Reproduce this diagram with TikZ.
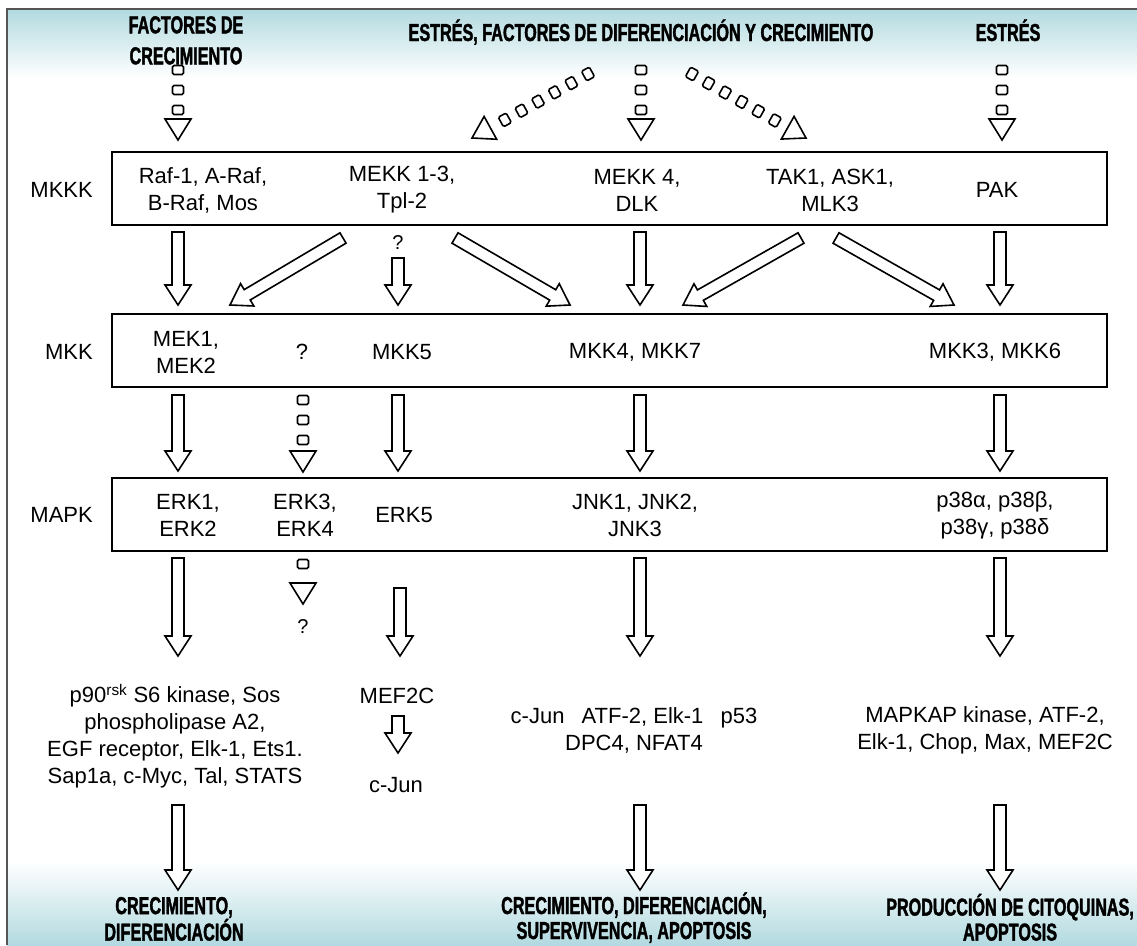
\documentclass[tikz,border=0pt]{standalone}
\usepackage{fontspec}
\setmainfont{Liberation Sans}
\newfontfamily\ttlfont{Liberation Sans}[FakeStretch=0.66, FakeBold=1.6]
\usetikzlibrary{calc,decorations.markings}
\definecolor{bandblue}{RGB}{178,218,224}
\definecolor{framegray}{RGB}{85,85,85}
\tikzset{
  lbl/.style={font=\fontsize{22}{27}\selectfont, align=center, inner sep=0pt, text=black},
  qmark/.style={font=\fontsize{20}{24}\selectfont, inner sep=0pt},
  ttl/.style={font=\ttlfont\bfseries\fontsize{24.5}{31}\selectfont, align=center, inner sep=0pt},
  ttlb/.style={font=\ttlfont\bfseries\fontsize{24.5}{25}\selectfont, align=center, inner sep=0pt},
  levelbox/.style={draw, line width=2pt, minimum width=995pt, minimum height=73pt, inner sep=0pt},
  blockarrow/.style={draw, line width=1.6pt, fill=white, line join=miter},
  sqbox/.style={draw, line width=1.6pt, fill=white, rounded corners=1.5pt},
  dothead/.style={draw, line width=1.6pt, fill=white, line join=miter},
}
\newcommand\blockarr[2]{%
  \coordinate (bP) at ($(#2)!20pt!(#1)$);
  \draw[blockarrow] ($(#1)!6pt!90:(#2)$) -- ($(bP)!6pt!-90:(#1)$) -- ($(bP)!13pt!-90:(#1)$)
    -- (#2) -- ($(bP)!13pt!90:(#1)$) -- ($(bP)!6pt!90:(#1)$) -- ($(#1)!6pt!-90:(#2)$) -- cycle;
}
\newcommand\dotarr[4]{%
  \path[decorate, decoration={markings,
    mark=between positions 0 and #3 step #4 with {\draw[sqbox] (-4.5pt,-5.5pt) rectangle (4.5pt,5.5pt);},
    mark=at position 1 with {\draw[dothead] (0pt,0pt) -- (-21pt,13pt) -- (-21pt,-13pt) -- cycle;}}]
    (#1) -- (#2);
}
\begin{document}
\begin{tikzpicture}[x=1pt,y=-1pt]
\useasboundingbox (0,0) rectangle (1137,945);
\fill[white] (0,0) rectangle (1137,945);
\shade[top color=bandblue, bottom color=white] (7,9) rectangle (1137,78);
\shade[top color=white, bottom color=bandblue] (7,862) rectangle (1137,945);
\draw[framegray, line width=2pt] (7,945) -- (7,9) -- (1137,9);

% top titles
\node[ttl, anchor=north] (tgf) at (186,16) {FACTORES DE\\CRECIMIENTO};
\node[ttl, anchor=base] (tall) at (641,41) {ESTRÉS, FACTORES DE DIFERENCIACIÓN Y CRECIMIENTO};
\node[ttl, anchor=base] (tst) at (1008,41) {ESTRÉS};

% level boxes
\node[levelbox] (mkkk) at (609.5,188.5) {};
\node[levelbox] (mkk) at (609.5,350.5) {};
\node[levelbox] (mapk) at (609.5,514.5) {};

% level labels
\node[lbl, anchor=east] (lmkkk) at (93,190) {MKKK};
\node[lbl, anchor=east] (lmkk) at (93,352) {MKK};
\node[lbl, anchor=east] (lmapk) at (93,515) {MAPK};

% MKKK row
\node[lbl] (raf) at (203,190) {Raf-1, A-Raf,\\B-Raf, Mos};
\node[lbl] (mekk13) at (402,190) {MEKK 1-3,\\Tpl-2};
\node[lbl] (mekk4) at (637,190) {MEKK 4,\\DLK};
\node[lbl] (tak) at (830,190) {TAK1, ASK1,\\MLK3};
\node[lbl] (pak) at (997,190) {PAK};

% MKK row
\node[lbl] (mek) at (186,352) {MEK1,\\MEK2};
\node[lbl] (mkkq) at (302,352) {?};
\node[lbl] (mkk5) at (402,352) {MKK5};
\node[lbl] (mkk47) at (635,352) {MKK4, MKK7};
\node[lbl] (mkk36) at (995,352) {MKK3, MKK6};

% MAPK row
\node[lbl] (erk12) at (188,515) {ERK1,\\ERK2};
\node[lbl] (erk34) at (305,515) {ERK3,\\ERK4};
\node[lbl] (erk5) at (404,515) {ERK5};
\node[lbl] (jnk) at (635,515) {JNK1, JNK2,\\JNK3};
\node[lbl] (p38) at (995,515) {p38α, p38β,\\p38γ, p38δ};

% targets
\node[lbl] (terk) at (175,736) {p90\textsuperscript{rsk} S6 kinase, Sos\\phospholipase A2,\\EGF receptor, Elk-1, Ets1.\\Sap1a, c-Myc, Tal, STATS};
\node[lbl] (mef) at (397,696) {MEF2C};
\node[lbl] (cjun) at (396,785) {c-Jun};
\node[lbl] (tjnk) at (634,730) {c-Jun\hspace{0.5em} ATF-2, Elk-1\hspace{0.5em} p53\\DPC4, NFAT4};
\node[lbl] (tp38) at (985,730) {MAPKAP kinase, ATF-2,\\Elk-1, Chop, Max, MEF2C};

% question marks
\node[qmark] (q1) at (398,243) {?};
\node[qmark] (q2) at (303,627) {?};

% bottom titles
\node[ttlb, anchor=south] (bgr) at (174,941) {CRECIMIENTO,\\DIFERENCIACIÓN};
\node[ttlb, anchor=south] (bjnk) at (634,943) {CRECIMIENTO, DIFERENCIACIÓN,\\SUPERVIVENCIA, APOPTOSIS};
\node[ttlb, anchor=south] (bp38) at (1010,941) {PRODUCCIÓN DE CITOQUINAS,\\APOPTOSIS};

% coordinates for connectors
\coordinate (d1s) at (178,70);   \coordinate (d1e) at (178,140);
\coordinate (d2s) at (641,70);   \coordinate (d2e) at (641,140);
\coordinate (d3s) at (1002,70);  \coordinate (d3e) at (1002,140);
\coordinate (d4s) at (588,74);   \coordinate (d4e) at (472,138);
\coordinate (d5s) at (692,74);   \coordinate (d5e) at (806,138);
\coordinate (d6s) at (303,400);  \coordinate (d6e) at (303,472);
\coordinate (d7s) at (303,564);  \coordinate (d7e) at (303,604);

\coordinate (a1s) at (178,232);  \coordinate (a1e) at (178,305);
\coordinate (a2s) at (343,238);  \coordinate (a2e) at (230,305);
\coordinate (a3s) at (398,258);  \coordinate (a3e) at (398,305);
\coordinate (a4s) at (455,238);  \coordinate (a4e) at (570,305);
\coordinate (a5s) at (640,232);  \coordinate (a5e) at (640,305);
\coordinate (a6s) at (801,238);  \coordinate (a6e) at (683,305);
\coordinate (a7s) at (836,238);  \coordinate (a7e) at (954,305);
\coordinate (a8s) at (1000,232); \coordinate (a8e) at (1000,305);

\coordinate (b1s) at (178,395);  \coordinate (b1e) at (178,471);
\coordinate (b2s) at (398,395);  \coordinate (b2e) at (398,471);
\coordinate (b3s) at (640,395);  \coordinate (b3e) at (640,471);
\coordinate (b4s) at (1000,395); \coordinate (b4e) at (1000,471);

\coordinate (c1s) at (178,558);  \coordinate (c1e) at (178,656);
\coordinate (c2s) at (400,588);  \coordinate (c2e) at (400,656);
\coordinate (c3s) at (640,558);  \coordinate (c3e) at (640,656);
\coordinate (c4s) at (1000,558); \coordinate (c4e) at (1000,656);
\coordinate (c5s) at (398,716);  \coordinate (c5e) at (398,753);

\coordinate (e1s) at (178,805);  \coordinate (e1e) at (178,890);
\coordinate (e2s) at (640,805);  \coordinate (e2e) at (640,890);
\coordinate (e3s) at (1000,805); \coordinate (e3e) at (1000,890);

% dotted arrows
\dotarr{d1s}{d1e}{40.5pt}{20pt}
\dotarr{d2s}{d2e}{40.5pt}{20pt}
\dotarr{d3s}{d3e}{40.5pt}{20pt}
\dotarr{d4s}{d4e}{96pt}{19pt}
\dotarr{d5s}{d5e}{96pt}{19pt}
\dotarr{d6s}{d6e}{40.5pt}{20pt}
\dotarr{d7s}{d7e}{1pt}{20pt}

% block arrows
\blockarr{a1s}{a1e}
\blockarr{a2s}{a2e}
\blockarr{a3s}{a3e}
\blockarr{a4s}{a4e}
\blockarr{a5s}{a5e}
\blockarr{a6s}{a6e}
\blockarr{a7s}{a7e}
\blockarr{a8s}{a8e}
\blockarr{b1s}{b1e}
\blockarr{b2s}{b2e}
\blockarr{b3s}{b3e}
\blockarr{b4s}{b4e}
\blockarr{c1s}{c1e}
\blockarr{c2s}{c2e}
\blockarr{c3s}{c3e}
\blockarr{c4s}{c4e}
\blockarr{c5s}{c5e}
\blockarr{e1s}{e1e}
\blockarr{e2s}{e2e}
\blockarr{e3s}{e3e}
\end{tikzpicture}
\end{document}
